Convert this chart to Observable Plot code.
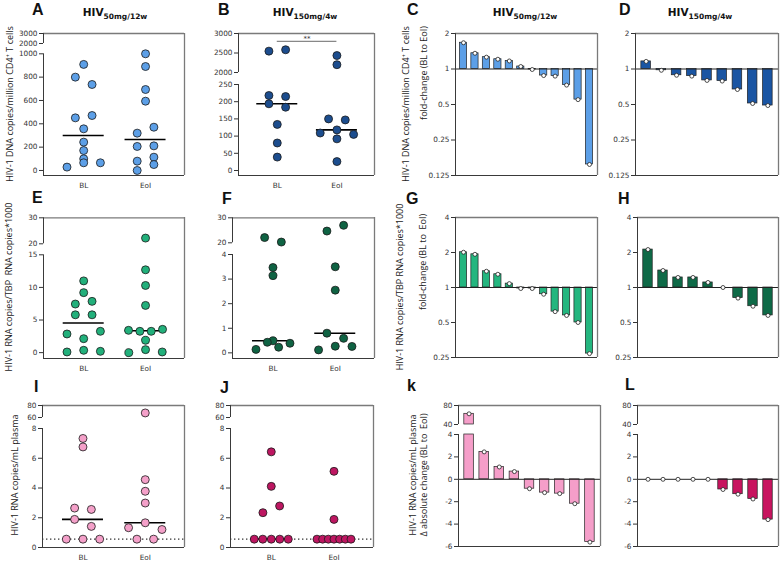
<!DOCTYPE html>
<html><head><meta charset="utf-8">
<script src="https://cdn.jsdelivr.net/npm/d3@7"></script>
<script src="https://cdn.jsdelivr.net/npm/@observablehq/plot@0.6"></script>
<style>
body{margin:0;background:#fff;}
#fig{position:relative;width:780px;height:562px;overflow:hidden;font-family:"Open Sans",sans-serif;background:#fff;}
.p{position:absolute;}
.lt{position:absolute;font:bold 16px/16px "Liberation Sans",Arial,sans-serif;color:#111;}
.tt{position:absolute;font:bold 10.5px/12px "DejaVu Sans",sans-serif;color:#111;transform:translateX(-50%);white-space:nowrap;}
.tt sub{font-size:7.5px;vertical-align:-3px;}
.yt{position:absolute;font-size:9px;line-height:11px;color:#222;white-space:nowrap;transform:translate(-50%,-50%) rotate(-90deg);}
.yt sup{font-size:6px;vertical-align:3px;line-height:0;}
</style></head><body><div id="fig"></div><script>
// ---------- data ----------
const groups = ["BL", "EoI"];
// HIV-1 DNA copies / million CD4+ T cells
const dna50_BL  = [909, 800, 737, 451, 471, 357, 243, 171, 100, 29, 66, 66];
const dna50_EoI = [1000, 891, 694, 594, 320, 371, 206, 211, 80, 114, 0, 51];
const dna150_BL  = [2548, 2583, 218, 215, 194, 184, 134, 80, 39];
const dna150_EoI = [2435, 2200, 150, 147, 118, 109, 92, 105, 26];
const dna50_fold  = [1.67, 1.36, 1.26, 1.21, 1.17, 1.05, 0.99, 0.88, 0.87, 0.73, 0.55, 0.155];
const dna150_fold = [1.16, 0.975, 0.885, 0.87, 0.80, 0.79, 0.67, 0.51, 0.49];
// HIV-1 RNA copies / TBP RNA copies *1000
const rna50_BL  = [11.0, 9.2, 7.45, 7.86, 5.8, 5.8, 2.86, 2.14, 3.27, 0.1, 0.36, 0.2];
const rna50_EoI = [22.2, 12.7, 10.3, 7.24, 3.42, 3.27, 3.27, 3.57, 1.89, 0, 0.46, 0.1];
const rna150_BL  = [22.1, 20.3, 3.47, 3.14, 0.49, 0.14, 0.43, 0.23, 0.39];
const rna150_EoI = [24.7, 27.0, 3.5, 2.55, 0.8, 0.59, 0.12, 0.27, 0.26];
const rna50_fold  = [2.01, 1.93, 1.38, 1.30, 1.08, 0.98, 0.98, 0.875, 0.62, 0.575, 0.50, 0.27];
const rna150_fold = [2.12, 1.40, 1.22, 1.22, 1.105, 1.0, 0.81, 0.69, 0.575];
// HIV-1 RNA copies / mL plasma
const pl50_BL  = [7.33, 6.76, 2.65, 2.56, 1.89, 1.42, 0.56, 0.56, 0.56];
const pl50_EoI = [67.6, 4.56, 3.78, 2.99, 1.33, 1.66, 1.21, 0.56, 0.56];
const pl150_BL  = [6.43, 4.11, 2.34, 2.79, 0.56, 0.56, 0.56, 0.56, 0.56];
const pl150_EoI = [5.12, 1.89, 0.56, 0.56, 0.56, 0.56, 0.56, 0.56, 0.56];
const pl50_delta  = [62.5, 2.45, 1.10, 0.69, -0.84, -1.19, -1.28, -2.18, -5.61];
const pl150_delta = [0, 0, 0, 0, 0, -0.91, -1.33, -1.76, -3.6];
const detectionLimit = [0.56];
const sigB = [{from: 0, to: 1, y: 2800, label: "**"}];
// tick labels
const ticksA = [0, 200, 400, 600, 800, 1000, 2000, 3000];
const ticksB = [0, 50, 100, 150, 200, 250, 2000, 2500, 3000];
const ticksCD = [0.125, 0.25, 0.5, 1, 2];
const ticksE = [0, 5, 10, 15, 20, 30];
const ticksF = [0, 1, 2, 3, 4, 20, 30];
const ticksGH = [0.25, 0.5, 1, 2, 4];
const ticksIJ = [0, 2, 4, 6, 8, 60, 80];
const ticksKL = [-6, -4, -2, 0, 2, 4, 40, 80];

// ---------- colours ----------
const cBlue = "#5c9fe7", cNavy = "#1c4d8e", cGreen = "#22b07b", cDkGreen = "#0f6343", cPink = "#f4a0c9", cMagenta = "#bd1661";
const frameGray = "#7a7a7a", axisDark = "#3a3a3a";

const fig = document.getElementById("fig");
const baseStyle = {fontFamily: "DejaVu Sans", fontSize: "7.3px", color: "#333", background: "transparent", overflow: "visible"};

function place(el, left, top) {
  const d = document.createElement("div");
  d.className = "p"; d.style.left = left + "px"; d.style.top = top + "px";
  d.appendChild(el); fig.appendChild(d);
}
function html(cls, left, top, inner) {
  const d = document.createElement("div");
  d.className = cls; d.style.left = left + "px"; d.style.top = top + "px";
  d.innerHTML = inner; fig.appendChild(d);
}

// row-centred dot layout (points that collide vertically share a row, spread symmetrically)
function swarm(values, ypx, thr, spacing, maxHalf) {
  const idx = values.map((v, i) => i).sort((a, b) => ypx(values[b]) - ypx(values[a]));
  const off = new Array(values.length).fill(0);
  let k = 0;
  while (k < idx.length) {
    const y0 = ypx(values[idx[k]]);
    let j = k;
    while (j < idx.length && Math.abs(ypx(values[idx[j]]) - y0) < thr) j++;
    const row = idx.slice(k, j).sort((a, b) => a - b);
    const m = row.length;
    const sp = m > 1 ? Math.min(spacing, 2 * maxHalf / (m - 1)) : 0;
    row.forEach((p, q) => off[p] = (q - (m - 1) / 2) * sp);
    k = j;
  }
  return off;
}

function frameMarks(xDom, yBottom, yTop, pieces) {
  return [
    Plot.ruleY([yTop], {stroke: frameGray, strokeWidth: 1.3}),
    Plot.ruleX([xDom[1]], {stroke: frameGray, strokeWidth: 1.3}),
    Plot.ruleY([yBottom], {stroke: axisDark, strokeWidth: 1}),
    Plot.ruleX(pieces, {x: () => xDom[0], y1: d => d[0], y2: d => d[1], stroke: axisDark, strokeWidth: 1})
  ];
}

function scatter(o) {
  const ml = 34, mr = 2, mt = 4, mb = 18;
  const ox = o.L - ml, oy = o.T - mt;
  const W = o.R - o.L + ml + mr, H = o.B - o.T + mt + mb;
  const xDom = [-0.65, 1.63];
  const ppu = (o.R - o.L) / (xDom[1] - xDom[0]);
  const rng = o.rng.map(v => v - oy);
  const ypx = d3.scaleLinear().domain(o.dom).range(rng);
  const r = 4;
  const pts = [];
  [o.bl, o.eoi].forEach((vals, g) => {
    const offs = swarm(vals, ypx, 7.5, 16.7, 17);
    vals.forEach((v, i) => pts.push({g, v, x: g + offs[i] / ppu}));
  });
  const meds = [o.bl, o.eoi].map((vals, g) => ({g, m: d3.median(vals)}));
  const mw = 20.5 / ppu;
  const marks = [];
  if (o.lod) marks.push(Plot.ruleY(o.lod, {stroke: "#333", strokeWidth: 1.4, strokeDasharray: "1.4,2.6"}));
  marks.push(Plot.ruleY(meds, {x1: d => d.g - mw, x2: d => d.g + mw, y: "m", stroke: "#000", strokeWidth: 1.6}));
  marks.push(Plot.dot(pts, {x: "x", y: "v", r, fill: o.color, stroke: "#1a1a1a", strokeWidth: 0.8}));
  if (o.sig) {
    marks.push(Plot.ruleY(o.sig, {x1: "from", x2: "to", y: "y", stroke: "#444", strokeWidth: 0.8}));
    marks.push(Plot.text(o.sig, {x: d => (d.from + d.to) / 2, y: "y", text: "label", dy: -3, fontSize: 7, fill: "#333"}));
  }
  marks.push(...frameMarks(xDom, o.dom[0], o.dom[o.dom.length - 1], o.pieces));
  const plot = Plot.plot({
    width: W, height: H, marginLeft: ml, marginRight: mr, marginTop: mt, marginBottom: mb,
    style: baseStyle,
    x: {domain: xDom, ticks: [0, 1], tickFormat: i => groups[i], tickSize: 0, tickPadding: 7, label: null},
    y: {type: "linear", domain: o.dom, range: rng, ticks: o.ticks, tickFormat: d => String(d), tickSize: 4, tickPadding: 2, label: null},
    marks
  });
  place(plot, ox, oy);
}

function bars(o) {
  const ml = 34, mr = 1, mt = 4, mb = 4;
  const ox = o.L - ml, oy = o.T - mt;
  const W = o.R - o.L + ml + mr, H = o.B - o.T + mt + mb;
  const n = o.vals.length;
  const xDom = [-0.7, n - 0.3];
  const hw = 0.315;
  const data = o.vals.map((v, i) => ({i, v}));
  const y = o.log
    ? {type: "log", base: 2, domain: o.dom, range: [o.B - oy, o.T - oy]}
    : {type: "linear", domain: o.dom, range: o.rng.map(v => v - oy)};
  const marks = [
    Plot.rect(data, {x1: d => d.i - hw, x2: d => d.i + hw, y1: () => o.base, y2: d => o.brk ? Math.min(d.v, o.brk[0]) : d.v, fill: o.color, stroke: "#222", strokeWidth: 0.7})
  ];
  if (o.brk) marks.push(Plot.rect(data.filter(d => d.v > o.brk[1]), {x1: d => d.i - hw, x2: d => d.i + hw, y1: () => o.brk[1], y2: "v", fill: o.color, stroke: "#222", strokeWidth: 0.7}));
  marks.push(Plot.ruleY([o.base], {stroke: "#222", strokeWidth: 1}));
  marks.push(Plot.dot(data, {x: "i", y: "v", r: 2, fill: "white", stroke: "#222", strokeWidth: 0.8}));
  marks.push(...frameMarks(xDom, o.dom[0], o.dom[o.dom.length - 1], o.pieces || [[o.dom[0], o.dom[o.dom.length - 1]]]));
  const plot = Plot.plot({
    width: W, height: H, marginLeft: ml, marginRight: mr, marginTop: mt, marginBottom: mb,
    style: baseStyle,
    x: {domain: xDom, axis: null},
    y: {...y, ticks: o.ticks, tickFormat: d => String(d), tickSize: 4, tickPadding: 2, label: null},
    marks
  });
  place(plot, ox, oy);
}

// ---------- row 1 ----------
scatter({L: 43, T: 33, R: 184, B: 175, dom: [-43, 1000, 2000, 3000], rng: [175, 53.3, 43, 33], pieces: [[-43, 1000], [2000, 3000]], ticks: ticksA, bl: dna50_BL, eoi: dna50_EoI, color: cBlue});
scatter({L: 238, T: 33, R: 374, B: 175, dom: [-14.5, 250, 2000, 3000], rng: [175, 84, 72, 33], pieces: [[-14.5, 250], [2000, 3000]], ticks: ticksB, bl: dna150_BL, eoi: dna150_EoI, color: cNavy, sig: sigB});
bars({L: 455, T: 33, R: 597, B: 175, log: true, dom: [0.125, 2], ticks: ticksCD, vals: dna50_fold, color: cBlue, base: 1});
bars({L: 635, T: 33, R: 778, B: 175, log: true, dom: [0.125, 2], ticks: ticksCD, vals: dna150_fold, color: "#1a55a3", base: 1});
// ---------- row 2 ----------
scatter({L: 43, T: 217, R: 184, B: 358, dom: [-0.9, 15, 20, 30], rng: [358, 254.3, 243.3, 217.3], pieces: [[-0.9, 15], [20, 30]], ticks: ticksE, bl: rna50_BL, eoi: rna50_EoI, color: cGreen});
scatter({L: 232, T: 217, R: 374, B: 358, dom: [-0.23, 4, 20, 30], rng: [358, 254, 242.3, 217.3], pieces: [[-0.23, 4], [20, 30]], ticks: ticksF, bl: rna150_BL, eoi: rna150_EoI, color: cDkGreen});
bars({L: 455, T: 217, R: 597, B: 357, log: true, dom: [0.25, 4], ticks: ticksGH, vals: rna50_fold, color: "#24b67f", base: 1});
bars({L: 637, T: 217, R: 778, B: 357, log: true, dom: [0.25, 4], ticks: ticksGH, vals: rna150_fold, color: "#0e6a47", base: 1});
// ---------- row 3 ----------
scatter({L: 42, T: 405, R: 184, B: 547, dom: [0, 8, 60, 80], rng: [547, 428, 417, 405], pieces: [[0, 8], [60, 80]], ticks: ticksIJ, bl: pl50_BL, eoi: pl50_EoI, color: cPink, lod: detectionLimit});
scatter({L: 230, T: 405, R: 373, B: 547, dom: [0, 8, 60, 80], rng: [547, 428, 417, 405], pieces: [[0, 8], [60, 80]], ticks: ticksIJ, bl: pl150_BL, eoi: pl150_EoI, color: cMagenta, lod: detectionLimit});
bars({L: 458, T: 405, R: 600, B: 546, dom: [-6, 4, 40, 80], rng: [546, 434, 424, 405], pieces: [[-6, 4], [40, 80]], brk: [4, 40], ticks: ticksKL, vals: pl50_delta, color: "#f59ec9", base: 0});
bars({L: 637, T: 405, R: 778, B: 546, dom: [-6, 4, 40, 80], rng: [546, 434, 424, 405], pieces: [[-6, 4], [40, 80]], brk: [4, 40], ticks: ticksKL, vals: pl150_delta, color: "#c8145f", base: 0});

// ---------- texts ----------
[["A", 32, 2], ["B", 218, 2], ["C", 407, 2], ["D", 619, 2],
 ["E", 32, 190], ["F", 222, 191], ["G", 406, 191], ["H", 618, 191],
 ["I", 34, 379], ["J", 220, 380], ["k", 407, 378], ["L", 625, 377]].forEach(([t, x, y]) => html("lt", x, y, t));
[[115, "50mg/12w"], [305, "150mg/4w"], [525, "50mg/12w"], [700, "150mg/4w"]].forEach(([x, s]) => html("tt", x, 6, "HIV<sub>" + s + "</sub>"));
const dnaTitle = "HIV-1 DNA copies/million CD4<sup>+</sup> T cells";
const rnaTitle = "HIV-1 RNA copies/TBP&nbsp; RNA copies*1000";
const plTitle = "HIV-1 RNA copies/mL plasma";
html("yt", 9, 104, dnaTitle);
html("yt", 405, 104, dnaTitle);
html("yt", 423, 73, "fold-change (BL to EoI)");
html("yt", 8, 287, rnaTitle);
html("yt", 399, 287, "HIV-1 RNA copies/TBP RNA copies*1000");
html("yt", 422, 262, "fold-change (BL to&nbsp; EoI)");
html("yt", 14, 475, plTitle);
html("yt", 412, 475, plTitle);
html("yt", 423, 475, "Δ absolute change (BL to&nbsp; EoI)");
</script></body></html>
